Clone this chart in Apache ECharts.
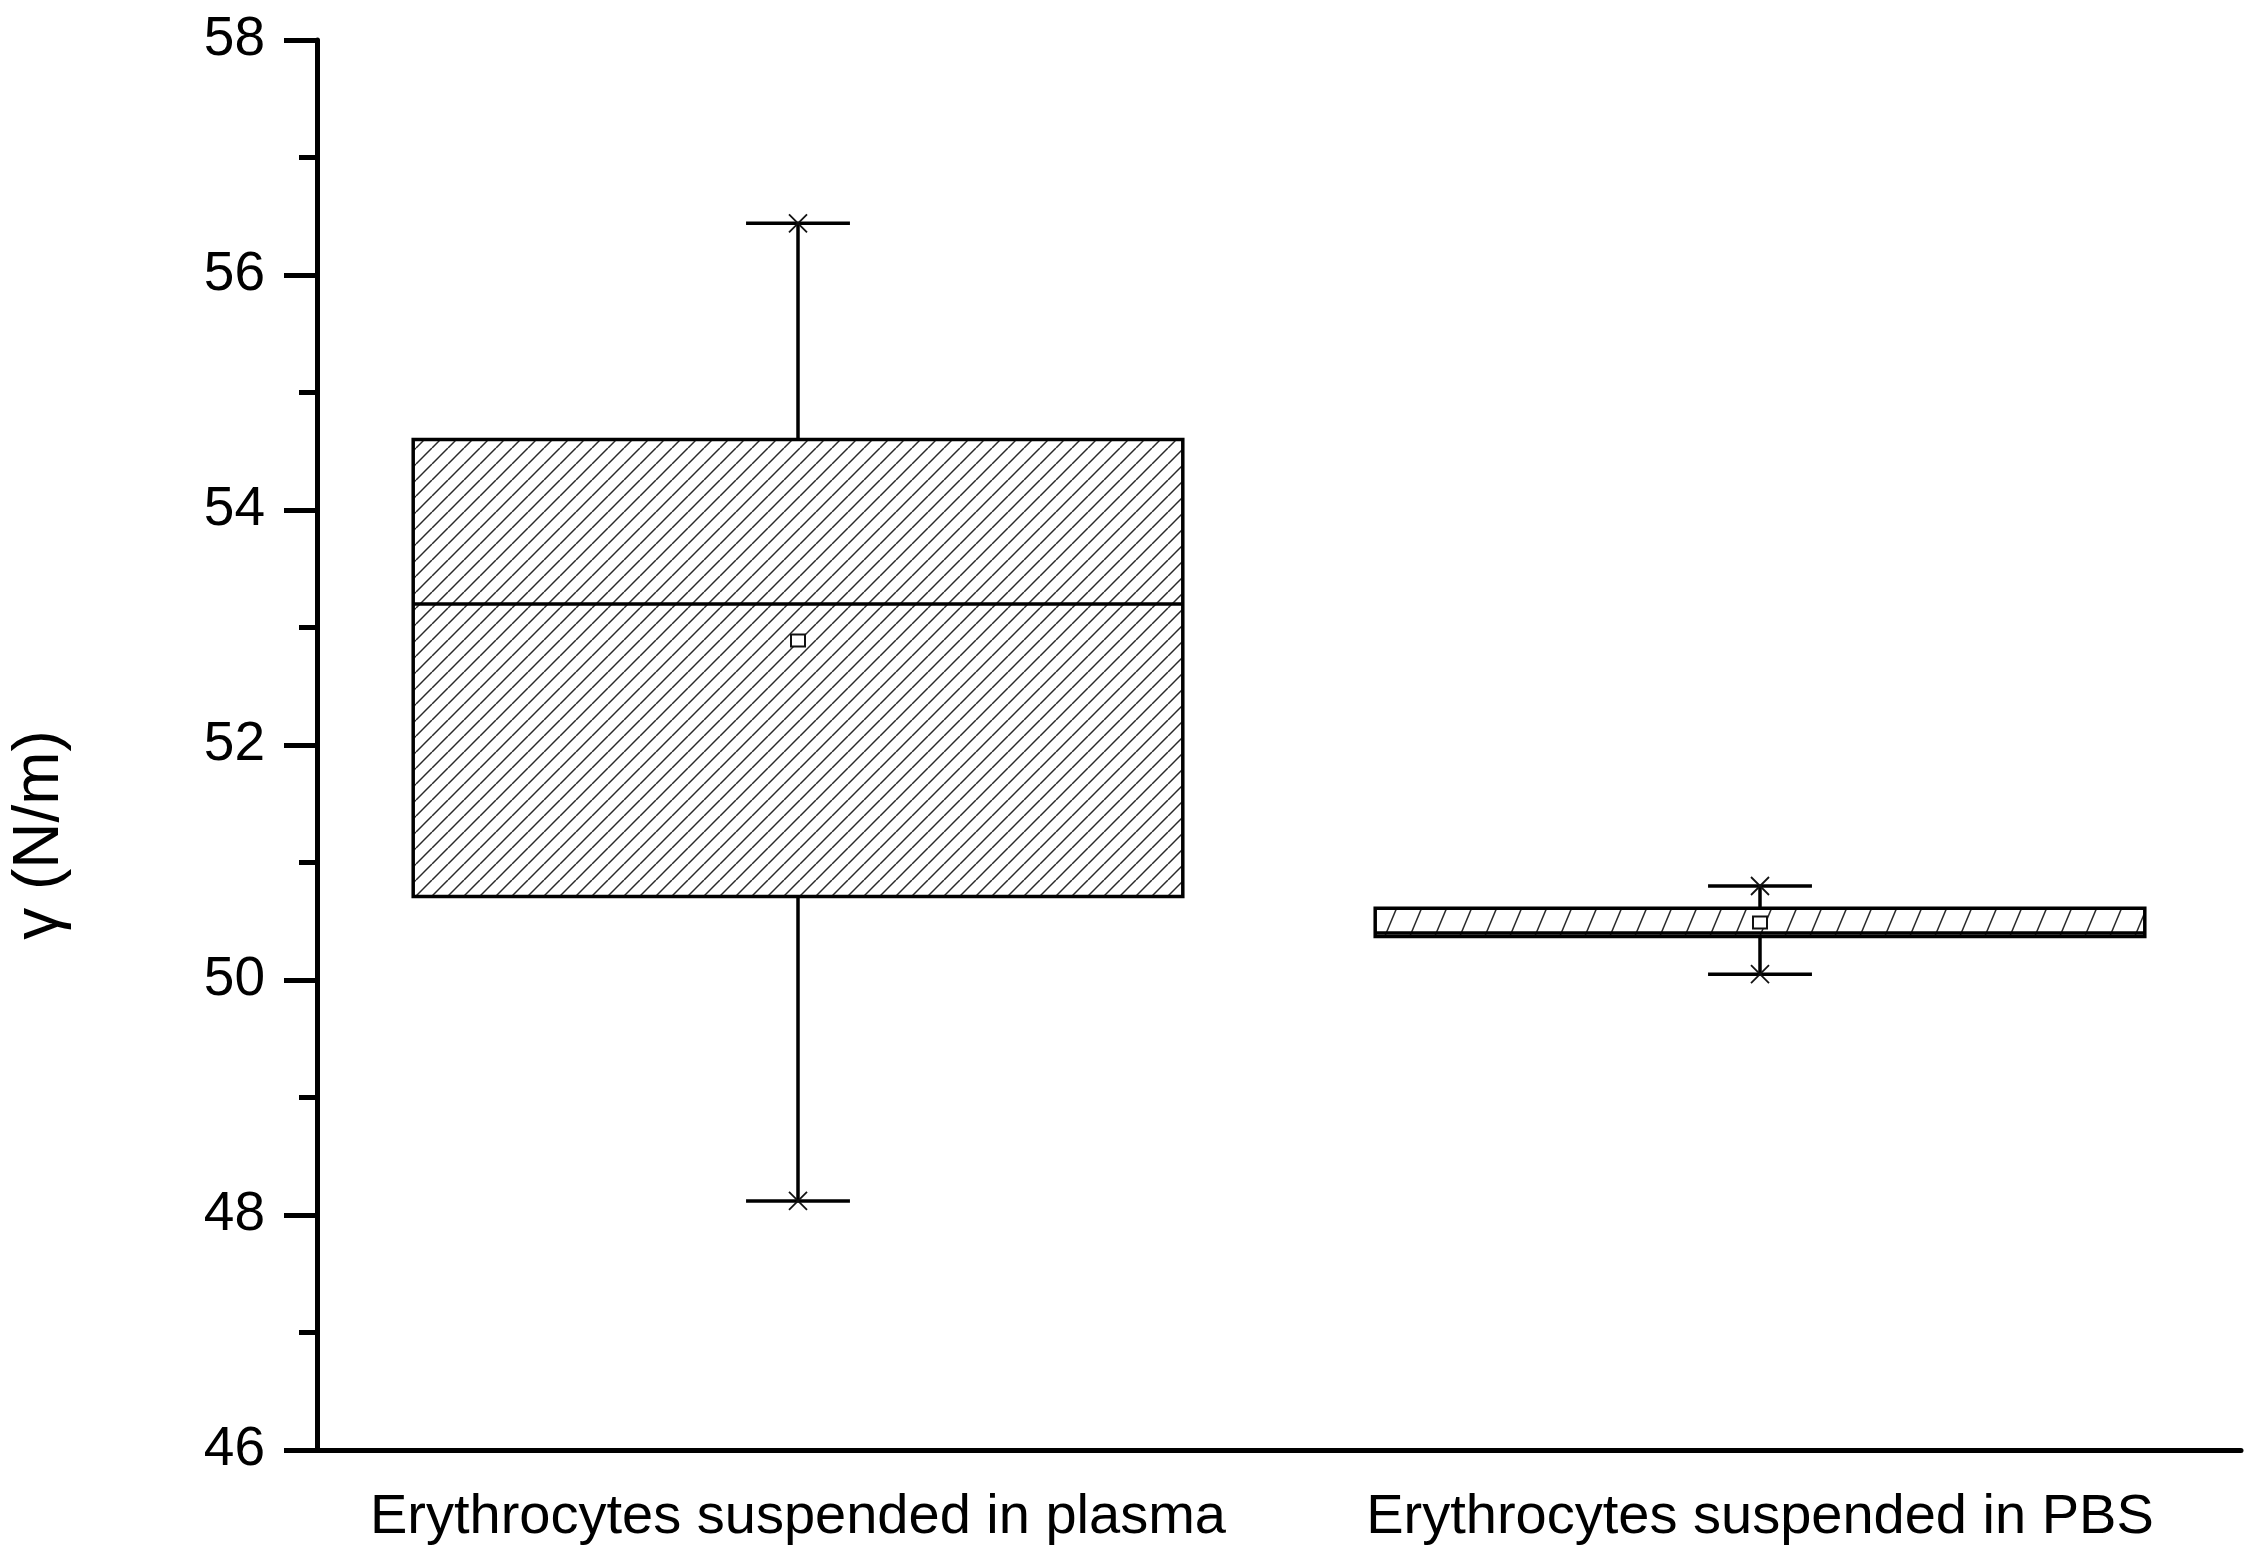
<!DOCTYPE html>
<html>
<head>
<meta charset="utf-8">
<script src="https://cdn.jsdelivr.net/npm/echarts@6/dist/echarts.min.js"></script>
<style>
  html, body { margin: 0; padding: 0; background: #fff; }
  #chart { width: 2256px; height: 1558px; }
</style>
</head>
<body>
<div id="chart"></div>
<script>
// categories and box statistics
const categories = ['Erythrocytes suspended in plasma', 'Erythrocytes suspended in PBS']
const minValues = [48.12, 50.05]
const q1Values = [50.71, 50.37]
const medianValues = [53.2, 50.4]
const q3Values = [54.6, 50.61]
const maxValues = [56.44, 50.8]
const meanValues = [52.89, 50.49]
const yTicks = { min: 46, max: 58, interval: 2 }

// diagonal hatch tiles
function makeHatch(w, h) {
  const c = document.createElement('canvas')
  c.width = w
  c.height = h
  const ctx = c.getContext('2d')
  ctx.strokeStyle = '#2a2a2a'
  ctx.lineWidth = 1.5
  for (const off of [-w, 0, w]) {
    ctx.beginPath()
    ctx.moveTo(off, h)
    ctx.lineTo(off + w, 0)
    ctx.stroke()
  }
  return c
}
const hatches = [makeHatch(16, 16), makeHatch(25, 60)]

const boxData = categories.map((_, i) => [
  i, minValues[i], q1Values[i], medianValues[i], q3Values[i], maxValues[i], meanValues[i]
])

const chart = echarts.init(document.getElementById('chart'))
const font = '"Liberation Sans", Arial, sans-serif'

chart.setOption({
  backgroundColor: '#fff',
  animation: false,
  grid: { left: 315, right: 15, top: 40, bottom: 108 },
  xAxis: {
    type: 'category',
    data: categories,
    boundaryGap: true,
    axisLine: { lineStyle: { color: '#000', width: 5 } },
    axisTick: { alignWithLabel: true, length: 32, lineStyle: { color: '#000', width: 5 } },
    axisLabel: { color: '#000', fontSize: 56, fontFamily: font, margin: 40, interval: 0 },
    splitLine: { show: false }
  },
  yAxis: {
    type: 'value',
    min: yTicks.min,
    max: yTicks.max,
    interval: yTicks.interval,
    name: 'γ (N/m)',
    nameLocation: 'middle',
    nameRotate: 90,
    nameGap: 245,
    // right padding pushes the rotated title down, as in the original
    nameTextStyle: { color: '#000', fontSize: 64, fontFamily: font, padding: [0, 180, 0, 0] },
    axisLine: { show: true, lineStyle: { color: '#000', width: 5 } },
    axisTick: { show: true, length: 33, lineStyle: { color: '#000', width: 5 } },
    minorTick: { show: true, splitNumber: 2, length: 18, lineStyle: { color: '#000', width: 5 } },
    axisLabel: { color: '#000', fontSize: 55, fontFamily: font, margin: 52 },
    splitLine: { show: false }
  },
  series: [{
    type: 'custom',
    data: boxData,
    encode: { x: 0, y: [1, 2, 3, 4, 5, 6] },
    renderItem(params, api) {
      const i = params.dataIndex
      const cat = api.value(0)
      const band = api.size([1, 0])[0]
      const cx = api.coord([cat, 0])[0]
      const y = v => api.coord([cat, api.value(v)])[1]
      const yMin = y(1), yQ1 = y(2), yMed = y(3), yQ3 = y(4), yMax = y(5), yMean = y(6)
      const bw = band * 0.8
      const cap = band * 0.054
      const line = { stroke: '#000', lineWidth: 3.5 }
      const thin = { stroke: '#111', lineWidth: 1.8 }
      const cross = (yy) => [
        { type: 'line', shape: { x1: cx - 9, y1: yy - 9, x2: cx + 9, y2: yy + 9 }, style: thin },
        { type: 'line', shape: { x1: cx - 9, y1: yy + 9, x2: cx + 9, y2: yy - 9 }, style: thin }
      ]
      return {
        type: 'group',
        children: [
          { type: 'line', shape: { x1: cx, y1: yQ3, x2: cx, y2: yMax }, style: line },
          { type: 'line', shape: { x1: cx, y1: yQ1, x2: cx, y2: yMin }, style: line },
          { type: 'line', shape: { x1: cx - cap, y1: yMax, x2: cx + cap, y2: yMax }, style: line },
          { type: 'line', shape: { x1: cx - cap, y1: yMin, x2: cx + cap, y2: yMin }, style: line },
          {
            type: 'rect',
            shape: { x: cx - bw / 2, y: yQ3, width: bw, height: yQ1 - yQ3 },
            style: { fill: { image: hatches[i], repeat: 'repeat' }, stroke: '#000', lineWidth: 3.5 }
          },
          { type: 'line', shape: { x1: cx - bw / 2, y1: yMed, x2: cx + bw / 2, y2: yMed }, style: line },
          ...cross(yMax),
          ...cross(yMin),
          {
            type: 'rect',
            shape: { x: cx - 7, y: yMean - 6, width: 14, height: 12 },
            style: { fill: '#fff', stroke: '#111', lineWidth: 2 }
          }
        ]
      }
    }
  }]
})
</script>
</body>
</html>
